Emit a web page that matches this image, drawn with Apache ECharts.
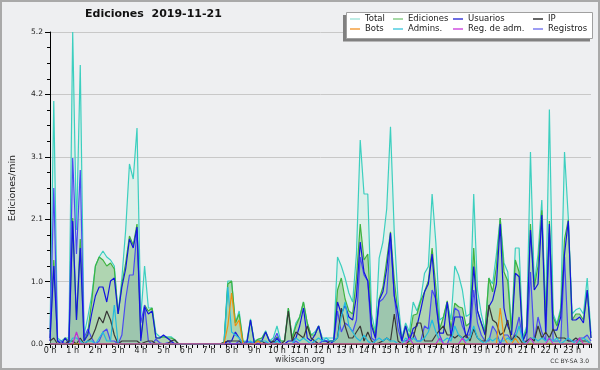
<!DOCTYPE html>
<html>
<head>
<meta charset="utf-8">
<script src="https://cdn.jsdelivr.net/npm/echarts@6/dist/echarts.min.js"></script>
<style>
html, body { margin: 0; padding: 0; background: #eeeff1; }
#chart { width: 600px; height: 370px; }
</style>
</head>
<body>
<div id="chart"></div>
<script>
// edits per minute, one value every 10 minutes (6 per row = 1 hour, rows 0 h .. 23 h)
const total = [
  0.2, 4.05, 0.1, 0.05, 0.1, 0.1,
  5.2, 1.9, 4.65, 0.15, 0.45, 0.8,
  1.3, 1.45, 1.55, 1.45, 1.4, 1.3,
  0.5, 1.1, 1.9, 3.0, 2.75, 3.6,
  0.45, 1.3, 0.6, 0.6, 0.18, 0.12,
  0.12, 0.12, 0.12, 0.07, 0, 0,
  0, 0, 0, 0, 0, 0,
  0, 0, 0, 0, 0.03, 1.05,
  1.05, 0.35, 0.55, 0.05, 0.05, 0.42,
  0.05, 0.08, 0.1, 0.22, 0.05, 0.1,
  0.3, 0.05, 0.05, 0.6, 0.1, 0.35,
  0.45, 0.7, 0.35, 0.15, 0.2, 0.3,
  0.1, 0.1, 0.1, 0.1, 1.45, 1.3,
  1.1, 0.85, 0.7, 1.5, 3.4, 2.5,
  2.5, 0.5, 0.2, 1.43, 1.7, 2.25,
  3.62, 1.85, 0.73, 0.1, 0.35, 0.2,
  0.7, 0.55, 0.75, 1.18, 1.29, 2.5,
  1.68, 0.4, 0.45, 0.7, 0.4, 1.3,
  1.15, 0.9, 0.46, 0.5, 2.5, 0.9,
  0.5, 0.23, 1.1, 1.0, 1.5, 2.1,
  1.35, 1.2, 0.25, 1.6, 1.6, 0.1,
  0.3, 3.2, 1.0, 1.5, 2.4, 0.46,
  3.91, 0.5, 0.34, 0.6, 3.2, 2.1,
  0.5, 0.57, 0.6, 0.5, 1.1, 0.18
];
const ediciones = [
  0.1, 1.4, 0.05, 0, 0.1, 0.05,
  2.1, 0.4, 1.75, 0.05, 0.2, 0.7,
  1.3, 1.45, 1.4, 1.3, 1.35, 1.25,
  0.5, 1.0, 1.35, 1.8, 1.65, 2.0,
  0.1, 0.65, 0.55, 0.6, 0.1, 0.1,
  0.12, 0.1, 0.1, 0.07, 0, 0,
  0, 0, 0, 0, 0, 0,
  0, 0, 0, 0, 0.03, 1.0,
  1.05, 0.35, 0.5, 0.05, 0, 0.4,
  0.02, 0.08, 0.1, 0.2, 0.05, 0.05,
  0.12, 0.05, 0.05, 0.6, 0.1, 0.3,
  0.45, 0.7, 0.35, 0.15, 0.15, 0.3,
  0.05, 0.05, 0.05, 0.05, 0.9, 1.1,
  0.75, 0.55, 0.5, 1.1, 2.0, 1.4,
  1.5, 0.35, 0.15, 0.75, 0.95, 1.4,
  1.87, 1.07, 0.5, 0.05, 0.3, 0.1,
  0.48, 0.5, 0.72, 0.87, 1.05, 1.6,
  0.95, 0.25, 0.45, 0.72, 0.25, 0.68,
  0.62, 0.6, 0.3, 0.35, 1.6, 0.55,
  0.35, 0.2, 1.1, 0.87, 1.29, 2.1,
  1.2, 1.05, 0.2, 1.4, 1.2, 0.05,
  0.25, 2.0, 0.95, 1.3, 2.23, 0.4,
  2.05, 0.45, 0.3, 0.55, 1.75, 2.07,
  0.4, 0.5, 0.5, 0.4, 0.9, 0.1
];
const usuarios = [
  0.05, 1.3, 0.05, 0, 0.1, 0,
  2.05, 0.4, 1.6, 0.05, 0.15, 0.5,
  0.8, 0.95, 0.95, 0.7, 1.05, 1.1,
  0.5, 0.95, 1.25, 1.75, 1.6, 1.95,
  0.05, 0.62, 0.5, 0.55, 0.1, 0.1,
  0.15, 0.1, 0.05, 0, 0, 0,
  0, 0, 0, 0, 0, 0,
  0, 0, 0, 0, 0, 0.05,
  0.05, 0.2, 0.1, 0, 0, 0.4,
  0.02, 0, 0.05, 0.2, 0.05, 0,
  0.1, 0, 0, 0.05, 0.05, 0.1,
  0.3, 0.6, 0.1, 0.05, 0.15, 0.3,
  0.05, 0.05, 0, 0.05, 0.7, 0.5,
  0.65, 0.45, 0.4, 0.8, 1.7, 1.2,
  1.05, 0.3, 0.1, 0.73, 0.87, 1.25,
  1.85, 0.8, 0.5, 0.05, 0.3, 0.05,
  0.26, 0.3, 0.57, 0.87, 1.0, 1.5,
  0.68, 0.18, 0.18, 0.7, 0.12, 0.45,
  0.45, 0.45, 0.1, 0.3, 1.29, 0.55,
  0.35, 0.15, 0.62, 0.73, 1.0, 2.0,
  0.6, 0.3, 0.15, 1.18, 1.12, 0.05,
  0.2, 1.9, 0.9, 1.0, 2.15, 0.2,
  2.0, 0.23, 0.23, 0.45, 1.5, 2.05,
  0.4, 0.4, 0.45, 0.35, 0.9, 0.1
];
const ip = [
  0.05, 0.1, 0, 0, 0, 0.05,
  0.05, 0, 0.1, 0, 0.05, 0.1,
  0.25, 0.45, 0.35, 0.55, 0.4, 0.15,
  0, 0.05, 0.05, 0.05, 0.05, 0.05,
  0, 0.03, 0.05, 0.05, 0, 0,
  0, 0, 0.05, 0.07, 0, 0,
  0, 0, 0, 0, 0, 0,
  0, 0, 0, 0, 0.03, 0.05,
  0.05, 0.05, 0.05, 0, 0, 0,
  0, 0.05, 0.05, 0, 0, 0.05,
  0, 0, 0.05, 0.55, 0.05, 0.2,
  0.15, 0.1, 0.3, 0.1, 0.05, 0,
  0, 0, 0.05, 0.05, 0.1, 0.6,
  0.3, 0.1, 0.1, 0.2, 0.3, 0.05,
  0.2, 0.05, 0, 0.02, 0.05, 0.1,
  0.05, 0.5, 0.05, 0, 0, 0.05,
  0.1, 0.35, 0.35, 0.05, 0.05, 0.05,
  0.15, 0.23, 0.3, 0.15, 0.15, 0.1,
  0.15, 0.1, 0.15, 0.05, 0.25, 0.1,
  0.05, 0.05, 0.65, 0.4, 0.35, 0.15,
  0.2, 0.4, 0.05, 0.15, 0.1, 0,
  0.05, 0.1, 0.05, 0.3, 0.1, 0.2,
  0.1, 0.25, 0.1, 0.1, 0.1, 0.05,
  0.05, 0.1, 0.05, 0.05, 0.05, 0
];
const bots = [
  0, 0, 0, 0, 0, 0,
  0, 0, 0, 0, 0, 0,
  0, 0, 0, 0, 0, 0,
  0, 0, 0, 0, 0, 0,
  0, 0, 0, 0, 0, 0,
  0, 0, 0, 0, 0, 0,
  0, 0, 0, 0, 0, 0,
  0, 0, 0, 0, 0, 0.3,
  0.85, 0.3, 0.4, 0, 0, 0,
  0, 0.05, 0, 0, 0, 0,
  0, 0, 0, 0, 0, 0,
  0, 0, 0, 0, 0, 0,
  0, 0, 0, 0, 0, 0,
  0, 0, 0, 0, 0, 0,
  0, 0, 0, 0, 0, 0,
  0, 0, 0, 0, 0, 0,
  0, 0, 0, 0, 0, 0,
  0, 0, 0, 0, 0, 0,
  0, 0, 0, 0, 0, 0,
  0, 0, 0, 0, 0, 0.6,
  0.1, 0, 0, 0.1, 0, 0,
  0, 0, 0, 0, 0, 0,
  0, 0, 0, 0, 0, 0,
  0, 0, 0.1, 0, 0, 0
];
const admins = [
  0, 0, 0, 0, 0, 0,
  0.1, 0.1, 0.05, 0, 0.05, 0.05,
  0, 0.1, 0.2, 0.05, 0.05, 0.65,
  0, 0, 0, 0, 0, 0,
  0, 0, 0, 0, 0, 0,
  0, 0, 0, 0, 0, 0,
  0, 0, 0, 0, 0, 0,
  0, 0, 0, 0, 0, 0.95,
  0.2, 0.15, 0.1, 0, 0, 0.05,
  0, 0.05, 0.05, 0.05, 0, 0,
  0.05, 0, 0, 0, 0, 0.1,
  0.05, 0.1, 0.05, 0, 0.05, 0.1,
  0.05, 0.1, 0.05, 0.05, 0.1, 0.45,
  0.7, 0.3, 0.2, 0.1, 0.05, 0.15,
  0.05, 0, 0.05, 0.1, 0.05, 0.1,
  0.05, 0.05, 0, 0, 0.1, 0.05,
  0.1, 0.05, 0.05, 0.1, 0.2, 0.4,
  0.2, 0.05, 0.05, 0.1, 0.05, 0.3,
  0.15, 0.1, 0.05, 0.1, 0.3, 0.1,
  0.05, 0, 0.1, 0.05, 0.1, 0.05,
  0.05, 0.1, 0.05, 0.1, 0.3, 0.05,
  0, 0.1, 0.1, 0.05, 0.1, 0.05,
  0.1, 0.05, 0.1, 0, 0.05, 0.1,
  0.05, 0, 0.05, 0.1, 0.05, 0
];
const regAdm = [
  0, 0, 0, 0, 0, 0,
  0, 0.2, 0, 0, 0, 0,
  0, 0, 0, 0, 0, 0,
  0, 0, 0, 0, 0, 0,
  0, 0, 0, 0, 0, 0,
  0, 0, 0, 0, 0, 0,
  0, 0, 0, 0, 0, 0,
  0, 0, 0, 0, 0, 0,
  0, 0, 0, 0, 0, 0,
  0, 0, 0, 0, 0, 0,
  0, 0, 0, 0, 0, 0,
  0, 0, 0, 0, 0, 0,
  0, 0, 0, 0, 0, 0,
  0, 0, 0, 0, 0, 0,
  0, 0, 0, 0, 0, 0,
  0, 0, 0, 0, 0, 0.1,
  0, 0, 0, 0, 0, 0,
  0, 0.1, 0, 0, 0, 0,
  0, 0.1, 0, 0, 0, 0,
  0, 0, 0, 0, 0, 0,
  0, 0, 0, 0, 0, 0,
  0, 0.1, 0, 0, 0, 0,
  0.1, 0, 0, 0, 0, 0,
  0, 0, 0.1, 0, 0, 0
];
const registros = [
  0.1, 2.6, 0.05, 0.05, 0, 0.05,
  3.1, 1.5, 2.9, 0.1, 0.25, 0.1,
  0, 0.05, 0.2, 0.25, 0.05, 0.05,
  0, 0.15, 0.75, 1.15, 1.15, 1.9,
  0.35, 0.65, 0.05, 0, 0.08, 0.02,
  0, 0.02, 0.02, 0, 0, 0,
  0, 0, 0, 0, 0, 0,
  0, 0, 0, 0, 0, 0.05,
  0, 0, 0.05, 0, 0.05, 0.02,
  0.03, 0, 0, 0.02, 0, 0.05,
  0.18, 0, 0, 0, 0, 0.05,
  0, 0, 0, 0, 0.05, 0,
  0.05, 0.05, 0.05, 0.05, 0.55, 0.2,
  0.35, 0.3, 0.2, 0.4, 1.45, 1.15,
  1.05, 0.1, 0.05, 0.7, 0.75, 0.85,
  1.75, 0.8, 0.25, 0.05, 0.05, 0.1,
  0.2, 0.05, 0.05, 0.3, 0.25, 0.9,
  0.75, 0.15, 0, 0, 0.15, 0.6,
  0.55, 0.3, 0.15, 0.15, 0.9, 0.35,
  0.15, 0.05, 0.05, 0.3, 0.2, 0,
  0.15, 0.15, 0.05, 0.2, 0.45, 0.05,
  0.05, 1.2, 0.05, 0.45, 0.2, 0.05,
  1.85, 0.05, 0.05, 0.05, 1.45, 0.05,
  0.05, 0.05, 0.1, 0.1, 0.15, 0.05
];

const STEP = 1 / 6; // hours between two samples
const FONT = '"DejaVu Sans", sans-serif';

function pairs(values) {
  return values.map((v, i) => [i * STEP, v]);
}

// drawing order: filled areas first, thin lines on top
const seriesDefs = [
  { name: 'Total', data: total, color: '#3ccfbf', area: 'rgba(150,243,205,0.25)' },
  { name: 'Ediciones', data: ediciones, color: '#3fb33f', area: 'rgba(90,168,74,0.5)' },
  { name: 'Registros', data: registros, color: '#4a4af2', area: 'rgba(110,160,170,0.4)' },
  { name: 'Usuarios', data: usuarios, color: '#1414e0' },
  { name: 'IP', data: ip, color: '#383838' },
  { name: 'Admins.', data: admins, color: '#22bce0' },
  { name: 'Bots', data: bots, color: '#f09010' },
  { name: 'Reg. de adm.', data: regAdm, color: '#c030d0' }
];

// legend layout: two rows of four
const legendRows = [
  ['Total', 'Ediciones', 'Usuarios', 'IP'],
  ['Bots', 'Admins.', 'Reg. de adm.', 'Registros']
];
const legendColX = [350, 393, 453, 533];
const legendRowY = [14, 24];
const legendColors = {
  'Total': '#a8e6dc', 'Ediciones': '#88cc88', 'Usuarios': '#3c3cd8', 'IP': '#333333',
  'Bots': '#f4a040', 'Admins.': '#50cce0', 'Reg. de adm.': '#d050e0', 'Registros': '#7c7cf0'
};

const legends = [];
legendRows.forEach((row, r) => {
  row.forEach((name, c) => {
    legends.push({
      left: legendColX[c],
      top: legendRowY[r],
      padding: 0,
      z: 10,
      icon: 'rect',
      itemWidth: 10,
      itemHeight: 1.5,
      selectedMode: false,
      data: [{ name: name, itemStyle: { color: legendColors[name] } }],
      textStyle: { fontFamily: FONT, fontSize: 8.5, color: '#222', lineHeight: 10 }
    });
  });
});

const chart = echarts.init(document.getElementById('chart'), null, { renderer: 'canvas' });

chart.setOption({
  animation: false,
  backgroundColor: '#eeeff1',
  textStyle: { fontFamily: FONT },

  title: [
    {
      text: 'Ediciones  2019-11-21', left: 85, top: 9, padding: 0,
      textStyle: { fontFamily: FONT, fontSize: 11, fontWeight: 'bold', color: '#111' }
    },
    {
      text: 'wikiscan.org', left: 'center', top: 356, padding: 0,
      textStyle: { fontFamily: FONT, fontSize: 8, fontWeight: 'normal', color: '#333' }
    },
    {
      text: 'CC BY-SA 3.0', right: 11, top: 358, padding: 0,
      textStyle: { fontFamily: FONT, fontSize: 6, fontWeight: 'normal', color: '#333' }
    }
  ],

  legend: legends,

  grid: { left: 46, right: 9, top: 32, bottom: 26 },

  xAxis: {
    type: 'value',
    min: 0,
    max: 143 / 6,
    interval: 1,
    axisLine: { lineStyle: { color: '#000', width: 1.5 } },
    axisTick: { length: 4, lineStyle: { color: '#000' } },
    minorTick: { show: true, splitNumber: 4, length: 4, lineStyle: { color: '#000' } },
    splitLine: { show: false },
    axisLabel: {
      fontFamily: FONT, fontSize: 8, color: '#222', margin: 3,
      formatter: v => Number.isInteger(v) ? v + ' h' : ''
    }
  },

  yAxis: {
    type: 'value',
    min: 0,
    max: 5.2,
    interval: 1.04,
    name: 'Ediciones/min',
    nameLocation: 'middle',
    nameGap: 32,
    nameTextStyle: { fontFamily: FONT, fontSize: 9.5, color: '#222' },
    axisLine: { show: true, lineStyle: { color: '#000', width: 1 } },
    axisTick: { show: true, length: 5, lineStyle: { color: '#000' } },
    minorTick: { show: true, splitNumber: 4, length: 3, lineStyle: { color: '#000' } },
    splitLine: { lineStyle: { color: '#c8c8c8', width: 1 } },
    axisLabel: {
      fontFamily: FONT, fontSize: 7.5, color: '#222', margin: 7,
      formatter: v => v.toFixed(1)
    }
  },

  series: seriesDefs.map(s => ({
    type: 'line',
    name: s.name,
    data: pairs(s.data),
    symbol: 'none',
    showSymbol: false,
    lineStyle: { color: s.color, width: 1.2 },
    itemStyle: { color: s.color },
    areaStyle: s.area ? { color: s.area, origin: 'start' } : undefined,
    emphasis: { disabled: true }
  })),

  graphic: [
    // outer frame
    {
      type: 'rect', z: 1,
      shape: { x: 1, y: 1, width: 598, height: 368 },
      style: { fill: 'none', stroke: '#a9a9a9', lineWidth: 2 }
    },
    // legend shadow + box
    {
      type: 'rect', z: 5,
      shape: { x: 343, y: 15, width: 247, height: 26.5 },
      style: { fill: '#808080' }
    },
    {
      type: 'rect', z: 6,
      shape: { x: 346.5, y: 12.5, width: 246, height: 26 },
      style: { fill: '#ffffff', stroke: '#a0a0a0', lineWidth: 1 }
    }
  ]
});
</script>
</body>
</html>
